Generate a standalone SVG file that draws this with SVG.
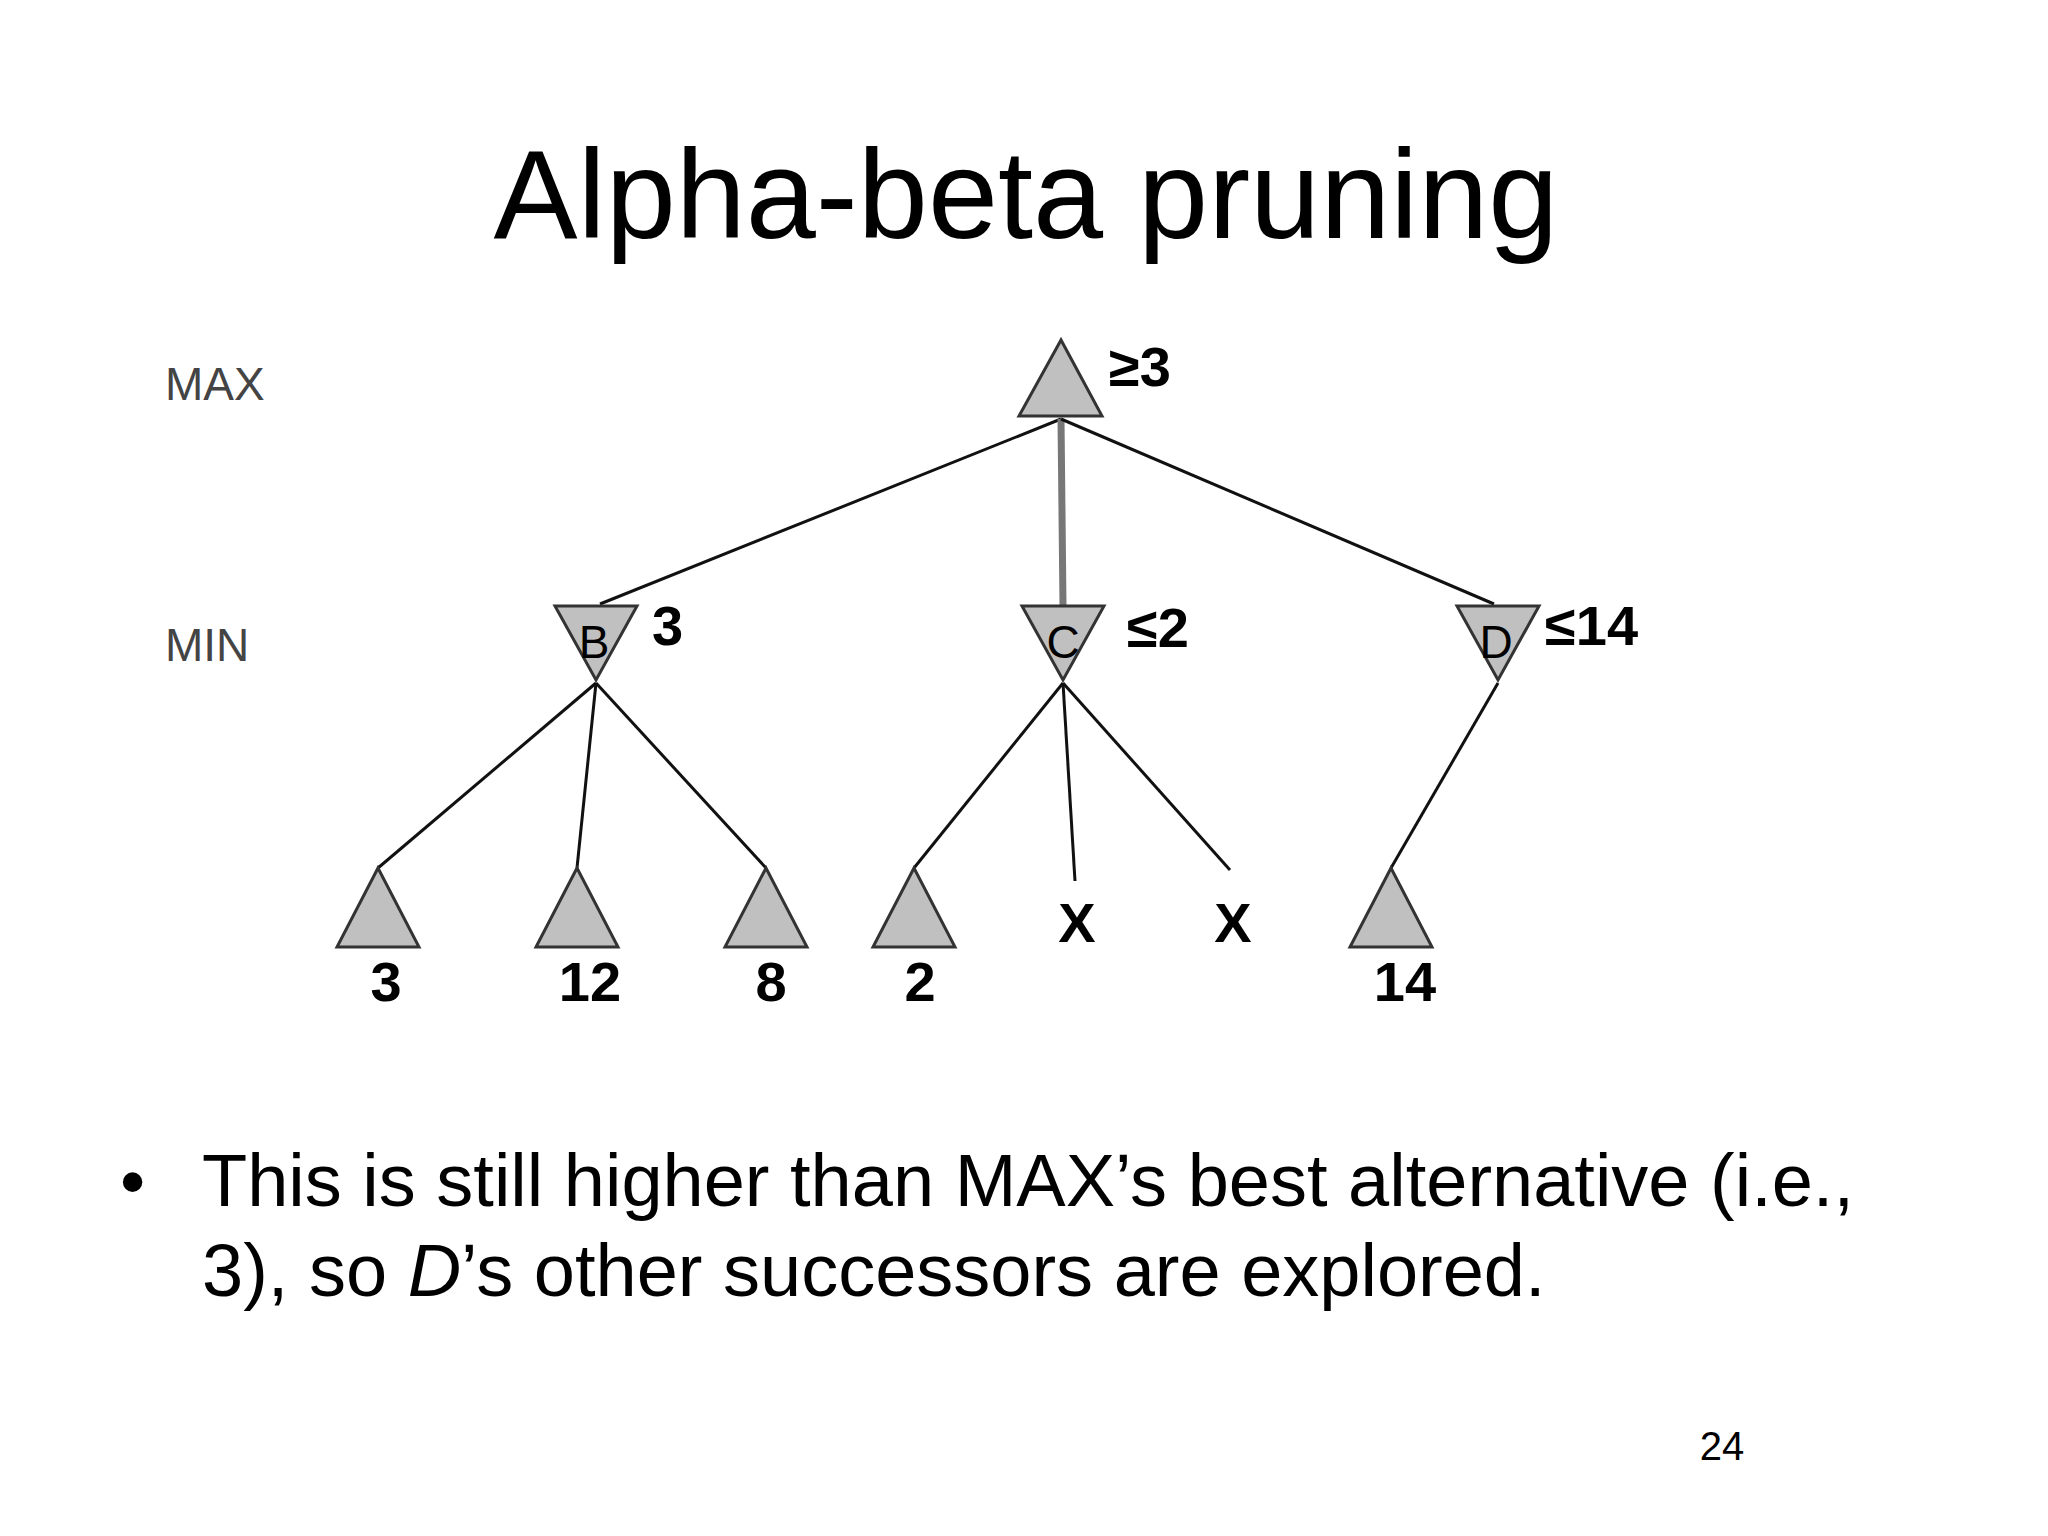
<svg xmlns="http://www.w3.org/2000/svg" width="2048" height="1536" viewBox="0 0 2048 1536">
<style>
text{font-family:"Liberation Sans",Arial,sans-serif;fill:#000}
.tri{fill:#c0c0c0;stroke:#333;stroke-width:3}
.e{stroke:#111;stroke-width:3;fill:none}
.v{font-weight:bold;font-size:56px}
.lv{font-size:46px;fill:#444}
.nl{font-size:46px;text-anchor:middle}
</style>
<rect width="2048" height="1536" fill="#fff"/>
<text x="1026" y="238" font-size="126" text-anchor="middle">Alpha-beta pruning</text>
<text class="lv" x="165" y="400">MAX</text>
<text class="lv" x="165" y="661">MIN</text>
<g transform="translate(-10,-6)">
<g id="connectors">
<line class="e" x1="1071" y1="425" x2="610" y2="610"/>
<line x1="1071" y1="425" x2="1073" y2="612" stroke="#777" stroke-width="7"/>
<line class="e" x1="1071" y1="425" x2="1504" y2="610"/>
<line class="e" x1="606" y1="689" x2="388" y2="874"/>
<line class="e" x1="606" y1="689" x2="587" y2="874"/>
<line class="e" x1="606" y1="689" x2="776" y2="874"/>
<line class="e" x1="1073" y1="689" x2="924" y2="874"/>
<line class="e" x1="1073" y1="689" x2="1085" y2="887"/>
<line class="e" x1="1073" y1="689" x2="1240" y2="876"/>
<line class="e" x1="1508" y1="689" x2="1401" y2="874"/>
</g>
<g id="root"><polygon class="tri" points="1071,346 1029,422 1112,422"/><text class="v" x="1119" y="392">≥3</text></g>
<g id="B"><polygon class="tri" points="565,612 647,612 606,686"/><text class="nl" x="604" y="664">B</text><text class="v" x="662" y="651">3</text></g>
<g id="C"><polygon class="tri" points="1032,612 1114,612 1073,686"/><text class="nl" x="1073" y="664">C</text><text class="v" x="1137" y="653">≤2</text></g>
<g id="D"><polygon class="tri" points="1467,612 1549,612 1508,686"/><text class="nl" x="1506" y="664">D</text><text class="v" x="1555" y="651">≤14</text></g>
<g id="l1"><polygon class="tri" points="388,874 347,953 429,953"/><text class="v" x="396" y="1007" text-anchor="middle">3</text></g>
<g id="l2"><polygon class="tri" points="587,874 546,953 628,953"/><text class="v" x="600" y="1007" text-anchor="middle">12</text></g>
<g id="l3"><polygon class="tri" points="776,874 735,953 817,953"/><text class="v" x="781" y="1007" text-anchor="middle">8</text></g>
<g id="l4"><polygon class="tri" points="924,874 883,953 965,953"/><text class="v" x="930" y="1007" text-anchor="middle">2</text></g>
<g id="x1"><text class="v" x="1087" y="948" text-anchor="middle">X</text></g>
<g id="x2"><text class="v" x="1243" y="948" text-anchor="middle">X</text></g>
<g id="l5"><polygon class="tri" points="1401,874 1360,953 1442,953"/><text class="v" x="1415" y="1007" text-anchor="middle">14</text></g>
</g>
<text x="120" y="1206" font-size="72">•</text>
<text x="202" y="1206" font-size="74">This is still higher than MAX’s best alternative (i.e.,</text>
<text x="202" y="1296" font-size="74">3), so <tspan font-style="italic">D</tspan>’s other successors are explored.</text>
<text x="1722" y="1460" font-size="40" text-anchor="middle">24</text>
</svg>
